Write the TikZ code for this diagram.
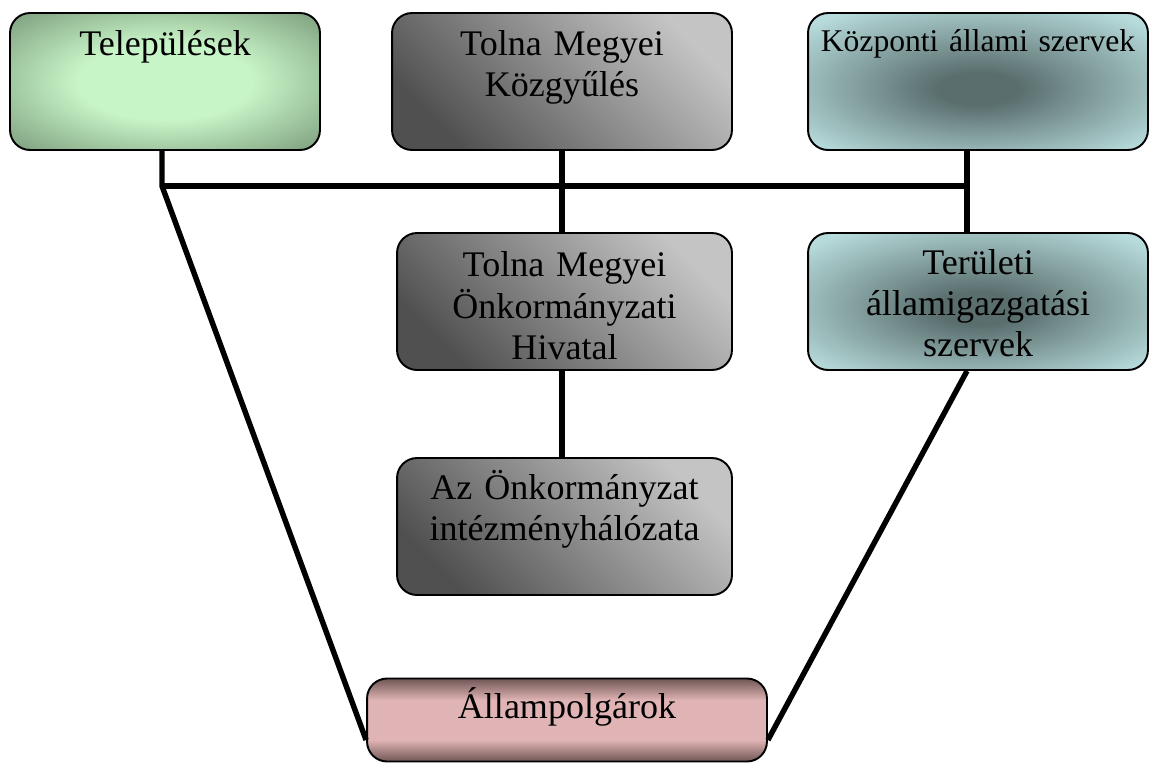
\documentclass[tikz,border=0pt]{standalone}
\usepackage{fontspec}
\setmainfont{Liberation Serif}
\usepackage{tikz}
\usetikzlibrary{positioning}
\definecolor{telin}{HTML}{C8F5C8}
\definecolor{telout}{HTML}{5E7A5E}
\definecolor{kozin}{HTML}{5A6E6E}
\definecolor{kozout}{HTML}{B8DCDC}
\definecolor{grlight}{HTML}{C4C4C4}
\definecolor{grdark}{HTML}{505050}
\definecolor{pkmid}{HTML}{E0B4B4}
\definecolor{pkedge}{HTML}{705656}
\pgfdeclareradialshading{telshade}{\pgfpoint{0bp}{0bp}}{color(0bp)=(telin); color(14bp)=(telin); color(44bp)=(telout); color(50bp)=(telout)}
\pgfdeclareradialshading{kozshade}{\pgfpoint{0bp}{-3bp}}{color(0bp)=(kozin); color(6bp)=(kozin); color(33bp)=(kozout); color(50bp)=(kozout)}
\pgfdeclarehorizontalshading{pkshade}{100bp}{color(0bp)=(pkedge); color(25bp)=(pkedge); color(38bp)=(pkmid); color(62bp)=(pkmid); color(75bp)=(pkedge); color(100bp)=(pkedge)}

\begin{document}
\begin{tikzpicture}[x=0.02cm,y=-0.02cm,
  egyseg/.style={draw=black, line width=1.1pt, rounded corners=0.4cm, minimum height=2.74cm, inner sep=0pt},
  zold/.style={egyseg, shade, shading=telshade},
  szurke/.style={egyseg, top color=grlight, bottom color=grdark, shading angle=-45},
  kek/.style={egyseg, shade, shading=kozshade},
  rozsa/.style={egyseg, shade, shading=pkshade, shading angle=90},
  felirat/.style={anchor=north, text width=6.6cm, align=center, inner sep=0pt, text height=0.66cm,
    font=\fontsize{20.5}{23.5}\selectfont},
  vonal/.style={line width=3.1pt}]
\useasboundingbox (0,0) rectangle (1150,762);
% dobozok
\node [zold, minimum width=6.2cm] (tel) at (165,81.5) {};
\node [szurke, minimum width=6.8cm] (kgy) at (562,81.5) {};
\node [kek, minimum width=6.8cm] (kozp) at (978,81.5) {};
\node [szurke, minimum width=6.7cm] (hiv) at (564.5,301.5) {};
\node [kek, minimum width=6.8cm] (ter) at (978,301.5) {};
\node [szurke, minimum width=6.7cm] (int) at (564.5,526.5) {};
\node [rozsa, minimum width=8cm, minimum height=1.66cm] (allp) at (567,720) {};
% feliratok
\node [felirat] (telT) at ([yshift=-0.2cm]tel.north) {Települések};
\node [felirat] (kgyT) at ([yshift=-0.2cm]kgy.north) {Tolna Megyei\\Közgyűlés};
\node [felirat, font=\fontsize{18}{22}\selectfont] (kozpT) at ([yshift=-0.12cm]kozp.north) {Központi állami szervek};
\node [felirat] (hivT) at ([yshift=-0.23cm]hiv.north) {Tolna Megyei\\Önkormányzati\\Hivatal};
\node [felirat] (terT) at ([yshift=-0.18cm]ter.north) {Területi\\államigazgatási\\szervek};
\node [felirat] (intT) at ([yshift=-0.18cm]int.north) {Az Önkormányzat\\intézményhálózata};
\node [felirat] (allpT) at ([yshift=-0.15cm]allp.north) {Állampolgárok};
% vonalak
\coordinate (bal) at (162,186);
\coordinate (jobb) at (967,186);
\draw [vonal] (tel.south -| bal) -- (bal) -- ([yshift=-0.4cm]allp.west);
\draw [vonal] (bal) -- (jobb);
\draw [vonal] (kgy.south) -- (hiv.north -| kgy.south);
\draw [vonal] (kozp.south -| jobb) -- (ter.north -| jobb);
\draw [vonal] (ter.south -| jobb) -- ([yshift=-0.4cm]allp.east);
\draw [vonal] (hiv.south -| kgy.south) -- (int.north -| kgy.south);
\end{tikzpicture}
\end{document}
